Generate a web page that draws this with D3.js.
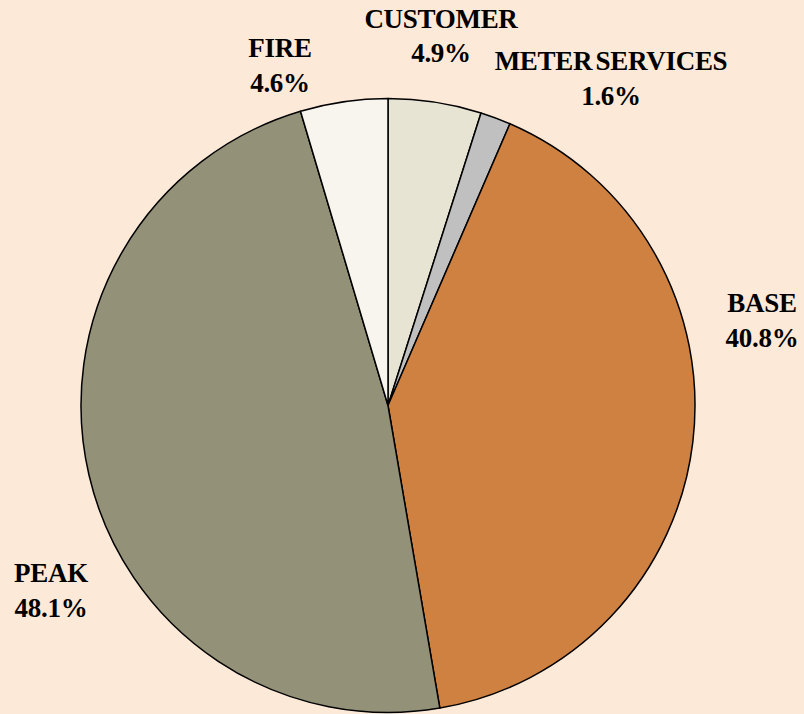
<!DOCTYPE html>
<html>
<head>
<meta charset="utf-8">
<script src="https://cdn.jsdelivr.net/npm/d3@7"></script>
<style>
  html, body { margin: 0; padding: 0; background: #fde9d7; }
  svg { display: block; }
</style>
</head>
<body>
<svg width="804" height="714"></svg>
<script>
const categories = ["CUSTOMER", "METER SERVICES", "BASE", "PEAK", "FIRE"];
const shares = [4.9, 1.6, 40.8, 48.1, 4.6];
const colors = ["#e8e4d4", "#c0c0c0", "#cf8141", "#939178", "#f8f5ee"];
// where each label sits (center of the text block), set by hand like the original
const labelAnchors = [[441, 44.5], [611, 87], [762, 329], [51, 599], [280, 74]];

function main() {
  const svg = d3.select("svg");
  const cx = 388, cy = 405.5, radius = 307;

  const pie = d3.pie().sort(null).value(d => d.value).startAngle(0).endAngle(2 * Math.PI);
  const arc = d3.arc().innerRadius(0).outerRadius(radius);

  const data = categories.map((c, i) => ({ name: c, value: shares[i], color: colors[i], pos: labelAnchors[i] }));

  const g = svg.append("g").attr("transform", `translate(${cx},${cy})`);
  g.selectAll("path")
    .data(pie(data))
    .join("path")
    .attr("d", arc)
    .attr("fill", d => d.data.color)
    .attr("stroke", "#000")
    .attr("stroke-width", 1.5)
    .attr("stroke-linejoin", "round");

  const fmt = d3.format(".1f");
  const labels = svg.selectAll("text.lbl")
    .data(data)
    .join("text")
    .attr("class", "lbl")
    .attr("text-anchor", "middle")
    .attr("font-family", "'Liberation Serif', 'Times New Roman', Times, serif")
    .attr("font-weight", "bold")
    .attr("font-size", 27)
    .attr("letter-spacing", -0.3)
    .attr("word-spacing", -3)
    .attr("fill", "#000");
  labels.append("tspan")
    .attr("x", d => d.pos[0])
    .attr("y", d => d.pos[1] - 17)
    .text(d => d.name);
  labels.append("tspan")
    .attr("x", d => d.pos[0])
    .attr("y", d => d.pos[1] + 17.5)
    .text(d => fmt(d.value) + "%");
}
main();
</script>
</body>
</html>
